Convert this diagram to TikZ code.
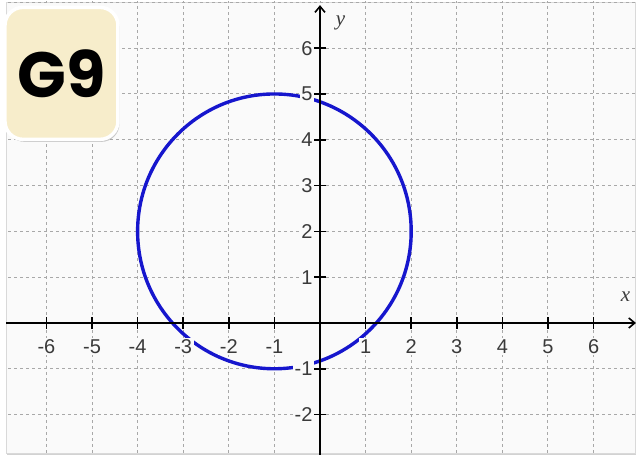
\documentclass[tikz,border=0pt]{standalone}
\usepackage{fontspec}
\setmainfont{Liberation Sans}
\newfontfamily\gfont{Poppins}
\newfontfamily\serifit{Liberation Serif}
\usetikzlibrary{arrows.meta,shadows}
\definecolor{bgc}{HTML}{FAFAFA}
\definecolor{gridc}{HTML}{A8A8A8}
\definecolor{labc}{HTML}{3A3A3A}
\definecolor{curvec}{RGB}{22,22,205}
\definecolor{cream}{HTML}{F7EDCB}
\tikzset{
  gridline/.style={gridc, line width=1pt, dash pattern=on 3pt off 3pt},
  axisline/.style={black, line width=1.6pt},
  tickmark/.style={black, line width=1.6pt},
  ticklab/.style={labc, font=\fontsize{20}{22}\selectfont, fill=bgc, inner sep=1.5pt},
  axislab/.style={labc, font=\fontsize{21}{23}\selectfont\serifit\itshape},
  curve/.style={curvec, line width=3.4pt},
  badge/.style={draw=white, line width=3.5pt, fill=cream, rounded corners=18pt, drop shadow={shadow xshift=1.5pt, shadow yshift=-2.5pt, opacity=0.4}},
}
\begin{document}
\begin{tikzpicture}[x=45.6pt,y=45.8pt]
\useasboundingbox (-7.018,-3.013) rectangle (6.974,7.052);
% frame
\fill[white] (-7.018,-3.013) rectangle (6.974,7.052);
\fill[gray!35] (-6.86,-2.88) rectangle (6.93,6.98);
\fill[bgc] (-6.886,-2.838) rectangle (6.908,7.009);
\draw[gray!30, line width=0.8pt] (-6.886,-2.838) rectangle (6.908,7.009);
% grid
\begin{scope}
\clip (-6.886,-2.838) rectangle (6.908,7.009);
\foreach \i in {-7,...,7} {
  \draw[gridline] (\i,-3.1) -- (\i,7.2);
}
\foreach \j in {-3,...,7} {
  \draw[gridline] (-7.1,\j) -- (7.1,\j);
}
\end{scope}
% curve
\draw[curve] (-1,2) circle [radius=3];
% axes
\coordinate (xl) at (-6.886,0);
\coordinate (xr) at (6.93,0);
\coordinate (yb) at (0,-2.88);
\coordinate (yt) at (0,6.94);
\draw[axisline, -{Straight Barb[length=6pt,width=10pt,line width=1.6pt]}] (xl) -- (xr);
\draw[axisline, -{Straight Barb[length=6pt,width=10pt,line width=1.6pt]}] (yb) -- (yt);
% ticks
\foreach \i in {-6,...,-1,1,2,...,6} {
  \draw[tickmark] (\i,-0.13) -- (\i,0.13);
  \node[ticklab] (xt\i) at (\i,-0.52) {\i};
}
\foreach \j in {-2,-1,1,2,...,6} {
  \draw[tickmark] (-0.13,\j) -- (0.13,\j);
  \node[ticklab, anchor=east] (yt\j) at (-0.13,\j) {\j};
}
\node[axislab] (xlab) at (6.7,0.58) {x};
\node[axislab] (ylab) at (0.45,6.55) {y};
% badge
\node[badge, minimum width=113pt, minimum height=132pt] (badgebox) at (-5.67,5.45) {};
\node[font=\fontsize{64}{68}\selectfont\gfont\bfseries, text=black] (badgetext) at (badgebox.center) {G9};
\end{tikzpicture}
\end{document}
